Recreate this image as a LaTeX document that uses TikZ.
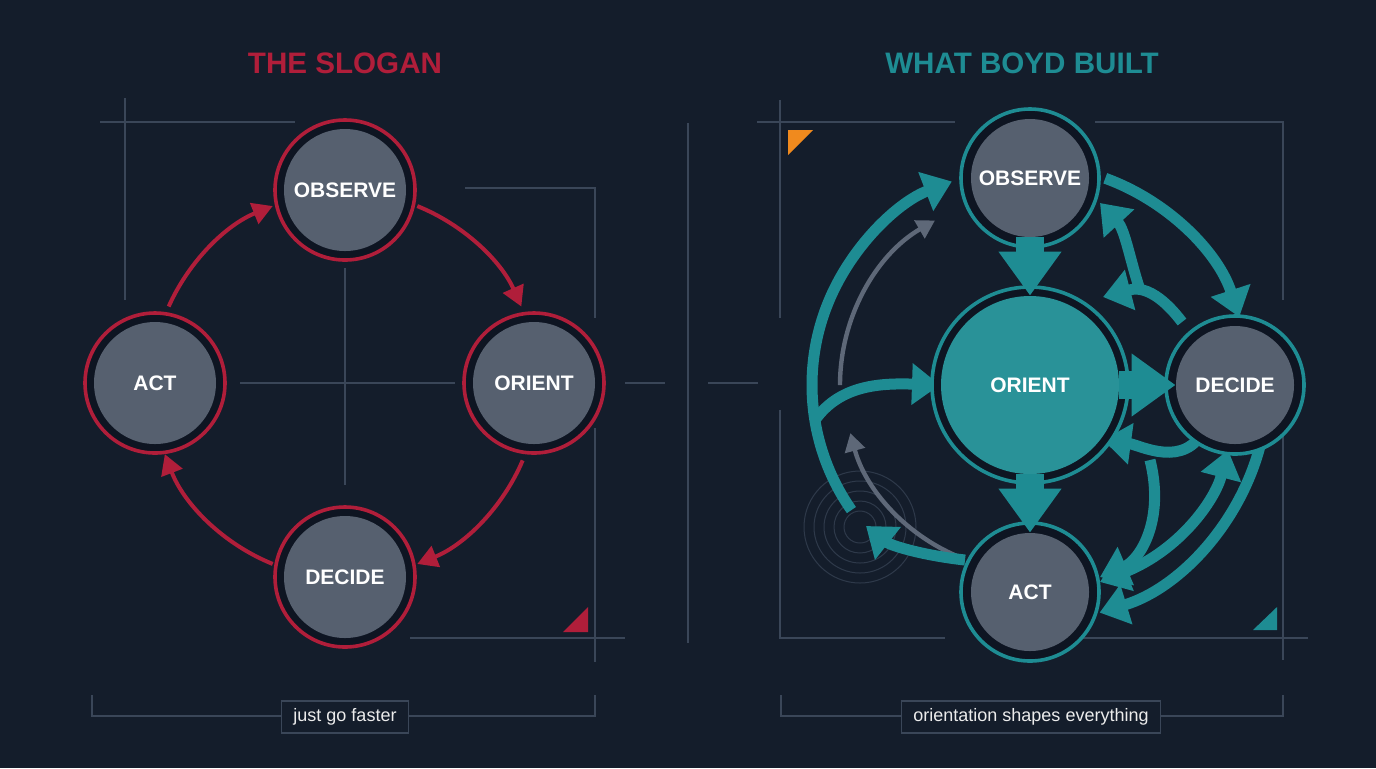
\documentclass[tikz,border=0pt]{standalone}
\usepackage{fontspec}
\setmainfont{Liberation Sans}
\usetikzlibrary{arrows.meta}
\definecolor{bg}{HTML}{141D2B}
\definecolor{dk}{HTML}{0E1522}
\definecolor{nodegrey}{HTML}{56606F}
\definecolor{red1}{HTML}{B01E3A}
\definecolor{teal1}{HTML}{1E8C93}
\definecolor{gl}{HTML}{3A4658}
\definecolor{ga}{HTML}{5E6878}
\definecolor{org}{HTML}{F08A1E}
\tikzset{
 gline/.style={gl, line width=0.6pt},
 lnode/.style={circle, fill=nodegrey, minimum size=61pt, inner sep=0pt, text=white, font=\bfseries\fontsize{10.5}{12}\selectfont},
 redring/.style={draw=red1, fill=dk, line width=1.8pt},
 tealring/.style={draw=teal1, fill=dk, line width=1.8pt},
 redarrow/.style={red1, line width=2pt, -{Triangle[length=10pt,width=11pt]}},
 tarrow/.style={teal1, line width=5.5pt, -{Triangle[length=14pt,width=20pt]}},
 tarrowboth/.style={teal1, line width=5.5pt, {Triangle[length=14pt,width=20pt]}-{Triangle[length=14pt,width=20pt]}},
 garrow/.style={ga, line width=2.2pt, -{Triangle[length=9pt,width=10pt]}},
 block/.style={teal1, line width=14pt, -{Triangle[length=22pt,width=30pt]}},
 labelbox/.style={draw=gl, line width=0.6pt, fill=bg, text=white!85!gray, font=\fontsize{9}{11}\selectfont, minimum height=16pt, inner xsep=6pt},
 title/.style={font=\bfseries\fontsize{14.8}{18}\selectfont}
}
\begin{document}
\begin{tikzpicture}[x=0.5pt,y=-0.5pt]
\fill[bg] (0,0) rectangle (1376,768);
\useasboundingbox (0,0) rectangle (1376,768);
% titles
\node[title, text=red1] (t1) at (345,63) {THE SLOGAN};
\node[title, text=teal1] (t2) at (1022,63) {WHAT BOYD BUILT};
% ---------- left guide lines
\draw[gline] (100,122) -- (295,122);
\draw[gline] (125,98) -- (125,300);
\draw[gline] (465,188) -- (595,188) -- (595,318);
\draw[gline] (595,428) -- (595,662);
\draw[gline] (410,638) -- (625,638);
\draw[gline] (345,268) -- (345,485);
\draw[gline] (240,383) -- (455,383);
\draw[gline] (625,383) -- (665,383);
\fill[red1] (563,632) -- (588,607) -- (588,632) -- cycle;
\draw[gline] (92,695) -- (92,716) -- (595,716) -- (595,695);
\node[labelbox] (lb1) at (345,717) {just go faster};
% divider
\draw[gline, line width=1.2pt] (688,123) -- (688,643);
\draw[gline] (708,383) -- (758,383);
% ---------- left nodes
\foreach \p in {(345,190),(155,383),(534,383),(345,577)} \draw[redring] \p circle[radius=35pt];
\node[lnode] (obsL) at (345,190) {OBSERVE};
\node[lnode] (actL) at (155,383) {ACT};
\node[lnode] (oriL) at (534,383) {ORIENT};
\node[lnode] (decL) at (345,577) {DECIDE};
\coordinate (cL) at (345,385);
\draw[redarrow] (cL) ++(156:96.5pt) arc[start angle=156,end angle=112,radius=96.5pt];
\draw[redarrow] (cL) ++(68:96.5pt) arc[start angle=68,end angle=24,radius=96.5pt];
\draw[redarrow] (cL) ++(-23:96.5pt) arc[start angle=-23,end angle=-68,radius=96.5pt];
\draw[redarrow] (cL) ++(-112:96.5pt) arc[start angle=-112,end angle=-159,radius=96.5pt];
% ---------- right guide lines
\draw[gline] (757,122) -- (955,122);
\draw[gline] (1095,122) -- (1283,122) -- (1283,300);
\draw[gline] (780,100) -- (780,318);
\draw[gline] (780,410) -- (780,638) -- (945,638);
\draw[gline] (1080,638) -- (1308,638);
\draw[gline] (1283,430) -- (1283,660);
\fill[org] (788,130) -- (813,130) -- (788,155) -- cycle;
\fill[teal1] (1253,630) -- (1277,607) -- (1277,630) -- cycle;
\draw[gline] (781,695) -- (781,716) -- (1283,716) -- (1283,695);
\node[labelbox] (lb2) at (1031,717) {orientation shapes everything};
% ripple
\foreach \r in {8,13,18,23,28} \draw[gl, line width=0.5pt, opacity=0.7] (860,527) circle[radius=\r pt];
% ---------- right arrows (behind nodes)
\coordinate (cR) at (1030,385);
\draw[garrow] (cR) ++(180:95pt) arc[start angle=180,end angle=120,radius=95pt];
\draw[garrow] (cR) ++(249:93pt) arc[start angle=249,end angle=195,radius=93pt];
\draw[tarrow] (cR) ++(215:109pt) arc[start angle=215,end angle=111,radius=109pt];
\draw[tarrow] (965,560) .. controls (920,555) and (890,545) .. (866,526);
\draw[tarrow] (815,420) .. controls (840,385) and (880,383) .. (940,385);
\draw[tarrow] (cR) ++(70:110pt) arc[start angle=70,end angle=18,radius=110pt];
\draw[tarrow] (cR) ++(-15:119pt) arc[start angle=-15,end angle=-73,radius=119pt];
\draw[tarrow] (1182,322) .. controls (1150,280) and (1130,290) .. (1103,297);
\draw[tarrow] (1140,290) .. controls (1130,260) and (1125,230) .. (1100,203);
\draw[tarrow] (1205,428) .. controls (1185,470) and (1140,445) .. (1103,440);
\draw[tarrow] (1150,460) .. controls (1165,520) and (1140,560) .. (1100,577);
\draw[tarrowboth] (1100,582) .. controls (1180,550) and (1215,500) .. (1228,450);
% ---------- right nodes
\foreach \p in {(1030,178),(1235,385),(1030,592)} \draw[tealring] \p circle[radius=34.5pt];
\draw[tealring] (1030,385) circle[radius=49pt];
\node[lnode, minimum size=59pt] (obsR) at (1030,178) {OBSERVE};
\node[lnode, fill=teal1!95!white, minimum size=89pt] (oriR) at (1030,385) {ORIENT};
\node[lnode, minimum size=59pt] (decR) at (1235,385) {DECIDE};
\node[lnode, minimum size=59pt] (actR) at (1030,592) {ACT};
\draw[block] (obsR.south) -- (oriR.north);
\draw[block] (oriR.south) -- (actR.north);
\draw[block] (oriR.east) -- (decR.west);
\end{tikzpicture}
\end{document}
